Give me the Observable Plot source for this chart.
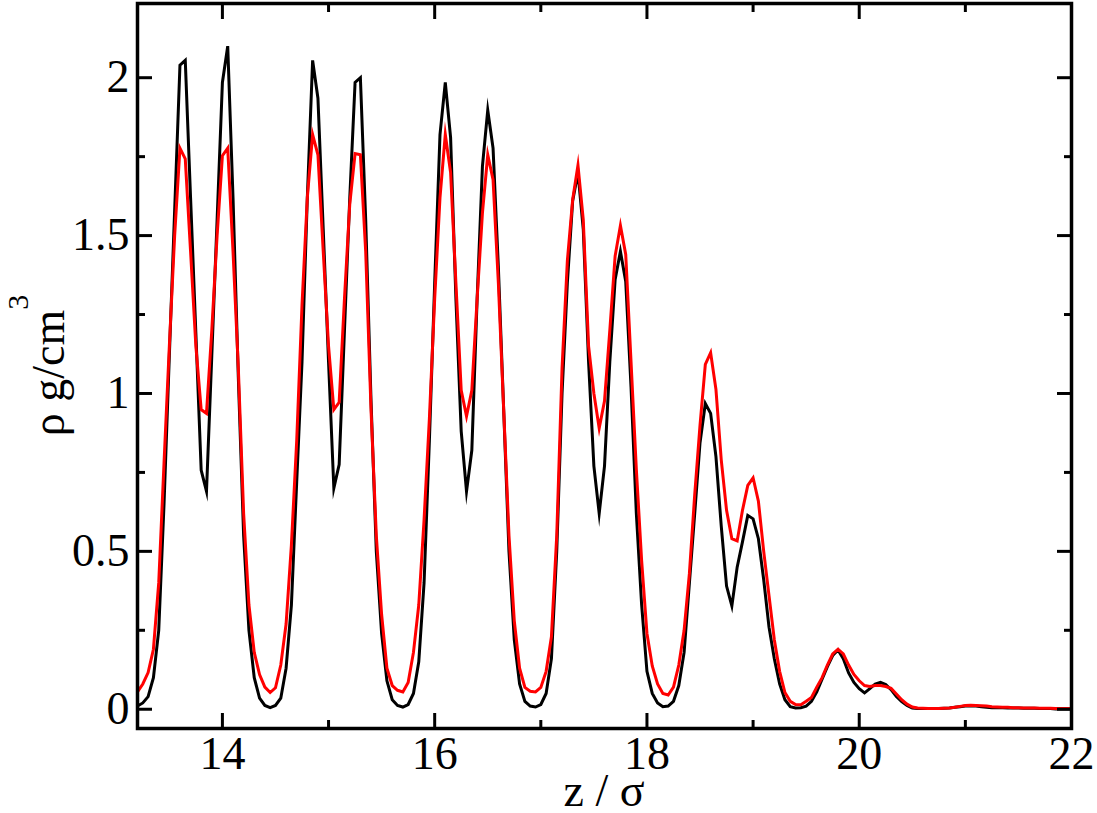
<!DOCTYPE html>
<html>
<head>
<meta charset="utf-8">
<script src="https://cdn.jsdelivr.net/npm/d3@7"></script>
<script src="https://cdn.jsdelivr.net/npm/@observablehq/plot@0.6"></script>
<style>
  html, body { margin: 0; padding: 0; background: #fff; }
  #chart svg { display: block; }
</style>
</head>
<body>
<div id="chart"></div>
<script>
// ---- data (z / sigma sampled every 0.05 from 13.20 to 22.00) ----
const zStart = 13.2;
const zStep = 0.05;

// black curve (rho, g/cm^3)
const rhoBlack = [
  // 13.20 - 13.95
  0.01, 0.02, 0.04, 0.10, 0.25, 0.65, 1.12, 1.58, 2.04, 2.055, 1.62, 1.19, 0.757, 0.69, 1.12, 1.55,
  // 14.00 - 14.95
  1.985, 2.10, 1.62, 1.05, 0.55, 0.25, 0.10, 0.035, 0.012, 0.005, 0.012, 0.035, 0.13, 0.33, 0.72, 1.10, 1.62, 2.055, 1.935, 1.52,
  // 15.00 - 15.95
  1.10, 0.70, 0.775, 1.20, 1.62, 1.985, 2.0, 1.55, 0.98, 0.50, 0.24, 0.09, 0.03, 0.012, 0.007, 0.015, 0.05, 0.15, 0.40, 0.85,
  // 16.00 - 16.95
  1.35, 1.82, 1.985, 1.81, 1.30, 0.88, 0.69, 0.82, 1.30, 1.72, 1.897, 1.777, 1.40, 0.95, 0.50, 0.22, 0.08, 0.025, 0.01, 0.007,
  // 17.00 - 17.95
  0.015, 0.05, 0.16, 0.50, 1.0, 1.35, 1.61, 1.70, 1.52, 1.10, 0.77, 0.62, 0.77, 1.10, 1.36, 1.45, 1.355, 1.02, 0.62, 0.33,
  // 18.00 - 18.95
  0.12, 0.05, 0.02, 0.008, 0.01, 0.025, 0.075, 0.18, 0.40, 0.62, 0.844, 0.968, 0.937, 0.80, 0.58, 0.39, 0.327, 0.45, 0.53, 0.614,
  // 19.00 - 19.95
  0.603, 0.54, 0.41, 0.26, 0.16, 0.08, 0.03, 0.008, 0.004, 0.005, 0.01, 0.025, 0.055, 0.095, 0.135, 0.17, 0.188, 0.16, 0.115, 0.085,
  // 20.00 - 20.95
  0.065, 0.052, 0.065, 0.08, 0.085, 0.078, 0.062, 0.04, 0.024, 0.012, 0.004, 0.002, 0.002, 0.002, 0.002, 0.002, 0.003, 0.004, 0.006, 0.008,
  // 21.00 - 22.00
  0.01, 0.011, 0.01, 0.008, 0.006, 0.005, 0.005, 0.005, 0.004, 0.004, 0.004, 0.003, 0.003, 0.003, 0.002, 0.002, 0.002, 0.001, 0.001, 0.001, 0.001
];

// red curve (rho, g/cm^3)
const rhoRed = [
  // 13.20 - 13.95
  0.055, 0.08, 0.116, 0.19, 0.40, 0.78, 1.15, 1.50, 1.777, 1.743, 1.45, 1.15, 0.949, 0.937, 1.20, 1.50,
  // 14.00 - 14.95
  1.753, 1.777, 1.45, 1.08, 0.62, 0.33, 0.18, 0.11, 0.07, 0.053, 0.068, 0.14, 0.27, 0.52, 0.85, 1.28, 1.62, 1.82, 1.756, 1.45,
  // 15.00 - 15.95
  1.15, 0.949, 0.972, 1.30, 1.60, 1.76, 1.756, 1.45, 0.95, 0.55, 0.30, 0.13, 0.075, 0.06, 0.055, 0.085, 0.18, 0.33, 0.60, 0.92,
  // 16.00 - 16.95
  1.30, 1.62, 1.82, 1.70, 1.35, 1.01, 0.928, 1.01, 1.30, 1.572, 1.756, 1.677, 1.35, 0.95, 0.55, 0.28, 0.13, 0.069, 0.057, 0.055,
  // 17.00 - 17.95
  0.069, 0.12, 0.23, 0.55, 1.08, 1.42, 1.614, 1.723, 1.55, 1.15, 1.0, 0.89, 0.976, 1.20, 1.435, 1.532, 1.44, 1.10, 0.76, 0.47,
  // 18.00 - 18.95
  0.24, 0.137, 0.08, 0.05, 0.045, 0.07, 0.14, 0.25, 0.43, 0.68, 0.90, 1.092, 1.129, 1.013, 0.79, 0.63, 0.54, 0.533, 0.63, 0.709,
  // 19.00 - 19.95
  0.733, 0.659, 0.50, 0.36, 0.22, 0.12, 0.053, 0.025, 0.015, 0.014, 0.025, 0.037, 0.07, 0.10, 0.14, 0.175, 0.19, 0.175, 0.14, 0.11,
  // 20.00 - 20.95
  0.09, 0.075, 0.072, 0.075, 0.075, 0.072, 0.066, 0.048, 0.03, 0.016, 0.007, 0.004, 0.003, 0.002, 0.002, 0.002, 0.003, 0.004, 0.006, 0.009,
  // 21.00 - 22.00
  0.012, 0.013, 0.012, 0.011, 0.01, 0.008, 0.007, 0.006, 0.006, 0.005, 0.005, 0.004, 0.004, 0.004, 0.003, 0.003, 0.003, 0.002, 0.002, 0.002, 0.002
];

// axis ticks and labels
const xMajorTicks = [14, 16, 18, 20, 22];
const xMinorTicks = [15, 17, 19, 21];
const xTickLabels = ["14", "16", "18", "20", "22"];
const yMajorTicks = [0, 0.5, 1, 1.5, 2];
const yMinorTicks = [0.25, 0.75, 1.25, 1.75];
const yTickLabels = ["0", "0.5", "1", "1.5", "2"];
const xTitle = "z / σ";
const yTitleMain = "ρ g/cm";
const yTitleSup = "3";

// ---- build table ----
const zGrid = rhoBlack.map((_, i) => +(zStart + zStep * i).toFixed(2));
const blackData = zGrid.map((z, i) => ({z, rho: rhoBlack[i]}));
const redData = zGrid.map((z, i) => ({z, rho: rhoRed[i]}));

const W = 1097, H = 813;
const serif = "'Liberation Serif', 'Times New Roman', Times, serif";
const FS = 46;

const tickAxis = (axis, ticks, anchor, size) =>
  axis(ticks, {anchor, tickSize: -size, strokeWidth: 3, fill: "none", label: null});

const svg = Plot.plot({
  width: W,
  height: H,
  marginLeft: 137,
  marginRight: 26,
  marginTop: 3,
  marginBottom: 85,
  x: {domain: [13.2, 22]},
  y: {domain: [-0.061, 2.235]},
  style: {fontFamily: serif, fontSize: FS + "px", color: "#000", background: "#fff"},
  marks: [
    Plot.line(blackData, {x: "z", y: "rho", stroke: "#000", strokeWidth: 3, strokeLinejoin: "miter", strokeMiterlimit: 10}),
    Plot.line(redData, {x: "z", y: "rho", stroke: "#ff0000", strokeWidth: 3, strokeLinejoin: "miter", strokeMiterlimit: 10}),
    // inward ticks on all four sides
    tickAxis(Plot.axisX, xMajorTicks, "bottom", 15),
    tickAxis(Plot.axisX, xMinorTicks, "bottom", 8),
    tickAxis(Plot.axisX, xMajorTicks, "top", 15),
    tickAxis(Plot.axisX, xMinorTicks, "top", 8),
    tickAxis(Plot.axisY, yMajorTicks, "left", 15),
    tickAxis(Plot.axisY, yMinorTicks, "left", 8),
    tickAxis(Plot.axisY, yMajorTicks, "right", 15),
    tickAxis(Plot.axisY, yMinorTicks, "right", 8),
    // tick labels
    Plot.axisX(xMajorTicks, {anchor: "bottom", tickSize: 0, tickPadding: 8, label: null,
      tickFormat: d => xTickLabels[xMajorTicks.indexOf(d)], fontSize: FS, fontFamily: serif, fill: "#000"}),
    Plot.axisY(yMajorTicks, {anchor: "left", tickSize: 0, tickPadding: 8, label: null,
      tickFormat: d => yTickLabels[yMajorTicks.indexOf(d)], fontSize: FS, fontFamily: serif, fill: "#000"}),
    Plot.frame({stroke: "#000", strokeWidth: 3.5})
  ]
});

// axis titles
const s = d3.select(svg);
s.append("text")
  .attr("x", (137 + (W - 26)) / 2)
  .attr("y", 806)
  .attr("text-anchor", "middle")
  .attr("font-family", serif)
  .attr("font-size", FS)
  .attr("fill", "#000")
  .text(xTitle);

const yt = s.append("text")
  .attr("transform", `translate(64,${(3 + (H - 85)) / 2}) rotate(-90)`)
  .attr("text-anchor", "middle")
  .attr("font-family", serif)
  .attr("font-size", FS)
  .attr("fill", "#000");
yt.append("tspan").text(yTitleMain);
yt.append("tspan").attr("dy", -36).attr("font-size", 30).text(yTitleSup);

document.getElementById("chart").appendChild(svg);
</script>
</body>
</html>
